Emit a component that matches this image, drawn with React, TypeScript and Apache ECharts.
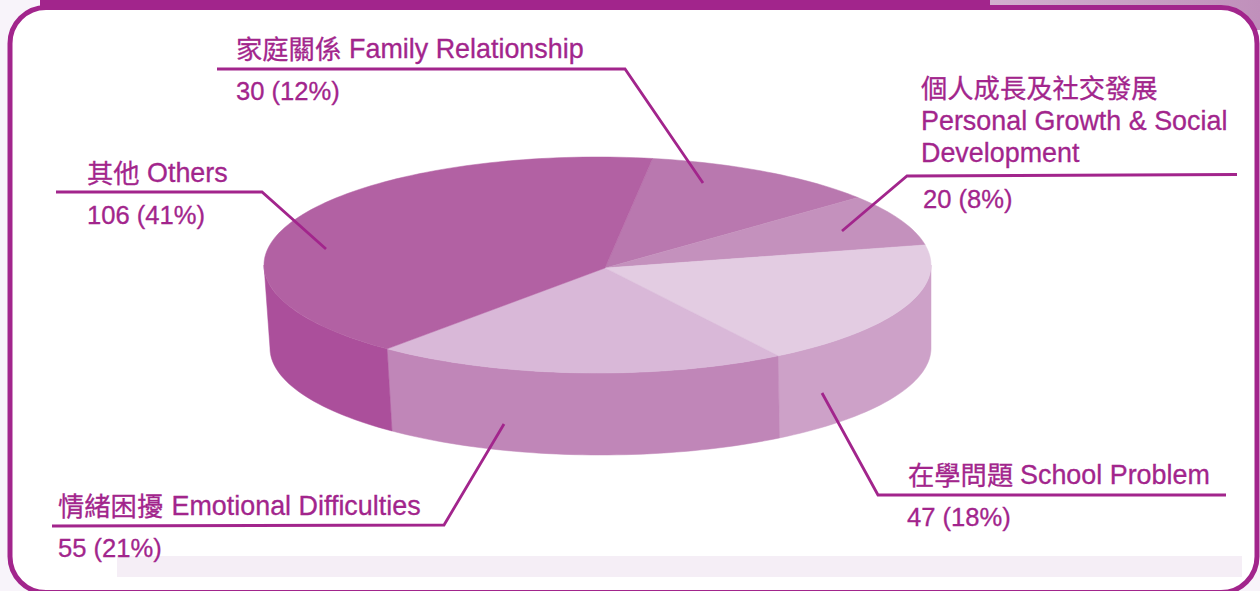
import React, { useEffect, useRef } from "react";
import * as echarts from "echarts";

const chineseNames = ["家庭關係", "個人成長及社交發展", "在學問題", "情緒困擾", "其他"];
const englishNames = ["Family Relationship", "Personal Growth & Social", "School Problem", "Emotional Difficulties", "Others"];
const values = [30, 20, 47, 55, 106];
const percents = [12, 8, 18, 21, 41];
const topColors = ["#b978af", "#c491bd", "#e3cce2", "#d9b8d8", "#b261a3"];
const sideColors = ["#b978af", "#c491bd", "#cda1c8", "#c086b8", "#ab4f9b"];

const PURPLE = "#a2258c";
const FAMILY = '"Liberation Sans", sans-serif';
const CJK_FONT = '26.3px "Noto Sans CJK TC", sans-serif';
const NAME_FONT = `26.9px ${FAMILY}`;
const AMOUNT_FONT = `25.6px ${FAMILY}`;
const START_ANGLE = 80.5;
const FRONT_FORESHORTEN = 2.5;
const TOP = { cx: 597.5, cy: 265, rx: 333.5, ry: 108 };
const BOTTOM = { cx: 600.5, cy: 348, rx: 330.5, ry: 107 };
const APEX = [605, 268];

type Line = { text: string; x: number; y: number; font: string };
const leaders: number[][][] = [
  [[217, 69], [625, 69], [703, 183]],
  [[1237, 174.5], [907, 176], [842, 231]],
  [[1226, 495], [878, 495], [822, 393]],
  [[52, 526], [444, 525], [504, 424]],
  [[56, 192], [262, 192], [326, 249]],
];

function labelLines(i: number): Line[] {
  const amount = `${values[i]} (${percents[i]}%)`;
  switch (i) {
    case 0:
      return [
        { text: chineseNames[0], x: 236, y: 47, font: CJK_FONT },
        { text: englishNames[0], x: 349, y: 49, font: NAME_FONT },
        { text: amount, x: 236, y: 91, font: AMOUNT_FONT },
      ];
    case 1:
      return [
        { text: chineseNames[1], x: 921, y: 86, font: CJK_FONT },
        { text: englishNames[1], x: 921, y: 121, font: NAME_FONT },
        { text: "Development", x: 921, y: 153, font: NAME_FONT },
        { text: amount, x: 923, y: 199, font: AMOUNT_FONT },
      ];
    case 2:
      return [
        { text: chineseNames[2], x: 908, y: 473, font: CJK_FONT },
        { text: englishNames[2], x: 1020, y: 475, font: NAME_FONT },
        { text: amount, x: 907, y: 517, font: AMOUNT_FONT },
      ];
    case 3:
      return [
        { text: chineseNames[3], x: 58, y: 504, font: CJK_FONT },
        { text: englishNames[3], x: 171.5, y: 506, font: NAME_FONT },
        { text: amount, x: 58, y: 548, font: AMOUNT_FONT },
      ];
    default:
      return [
        { text: chineseNames[4], x: 87, y: 171, font: CJK_FONT },
        { text: englishNames[4], x: 147, y: 173, font: NAME_FONT },
        { text: amount, x: 87, y: 215, font: AMOUNT_FONT },
      ];
  }
}

const total = values.reduce((a, b) => a + b, 0);

// The front half of the disc is slightly foreshortened in the 3D view.
function project(angle: number): number {
  if (angle >= 0 || angle <= -180) return angle;
  return angle - FRONT_FORESHORTEN * Math.sin((2 * (angle + 90) * Math.PI) / 180);
}

function sliceAngles(i: number): [number, number] {
  const before = values.slice(0, i).reduce((a, b) => a + b, 0);
  return [
    project(START_ANGLE - (before / total) * 360),
    project(START_ANGLE - ((before + values[i]) / total) * 360),
  ];
}

type Ell = typeof TOP;
function arc(e: Ell, from: number, to: number): number[][] {
  const steps = Math.max(2, Math.ceil(Math.abs(to - from) / 1.5));
  const pts: number[][] = [];
  for (let k = 0; k <= steps; k++) {
    const t = ((from + ((to - from) * k) / steps) * Math.PI) / 180;
    pts.push([e.cx + e.rx * Math.cos(t), e.cy - e.ry * Math.sin(t)]);
  }
  return pts;
}

function renderSlice(params: any) {
  const i = params.dataIndex;
  const [a1, a2] = sliceAngles(i);
  const children: any[] = [];
  const sideFrom = Math.min(a1, 0);
  const sideTo = Math.max(a2, -180);
  if (sideFrom > sideTo) {
    children.push({
      type: "polygon",
      shape: { points: [...arc(TOP, sideFrom, sideTo), ...arc(BOTTOM, sideTo, sideFrom)] },
      style: { fill: sideColors[i], stroke: sideColors[i], lineWidth: 0.5 },
      z2: 1,
    });
  }
  children.push({
    type: "polygon",
    shape: { points: [APEX, ...arc(TOP, a1, a2)] },
    style: { fill: topColors[i], stroke: topColors[i], lineWidth: 0.5 },
    z2: 2,
  });
  return { type: "group", children };
}

function renderLabel(params: any) {
  const i = params.dataIndex;
  const children: any[] = [
    {
      type: "polyline",
      shape: { points: leaders[i] },
      style: { stroke: PURPLE, fill: "none", lineWidth: 2.8 },
    },
  ];
  labelLines(i).forEach((l) =>
    children.push({
      type: "text",
      style: {
        text: l.text,
        x: l.x,
        y: l.y,
        font: l.font,
        fill: PURPLE,
        stroke: PURPLE,
        lineWidth: 0.3,
        textAlign: "left",
        textVerticalAlign: "middle",
      },
    })
  );
  return { type: "group", children };
}

export default function App() {
  const ref = useRef<HTMLDivElement>(null);
  useEffect(() => {
    const chart = echarts.init(ref.current!, undefined, { renderer: "svg" });
    chart.setOption({
      animation: false,
      backgroundColor: "#f8f4fa",
      graphic: [
        {
          type: "rect",
          shape: { x: 990, y: 0, width: 270, height: 30 },
          style: {
            fill: new echarts.graphic.LinearGradient(0, 0, 1, 0, [
              { offset: 0, color: "#d2b0cf" },
              { offset: 1, color: "#c090bb" },
            ]),
          },
        },
        {
          type: "rect",
          shape: { x: 10, y: 7.5, width: 1247, height: 585, r: 36 },
          style: { fill: "#ffffff", stroke: PURPLE, lineWidth: 5 },
        },
        { type: "rect", shape: { x: 40, y: 0, width: 950, height: 10 }, style: { fill: PURPLE } },
        { type: "rect", shape: { x: 117, y: 556, width: 1125, height: 21 }, style: { fill: "#f5eef6" } },
      ],
      series: [
        { type: "custom", coordinateSystem: "none", silent: true, z: 3, renderItem: renderSlice, data: values },
        { type: "custom", coordinateSystem: "none", silent: true, z: 5, renderItem: renderLabel, data: values },
      ],
    });
    return () => chart.dispose();
  }, []);
  return <div ref={ref} style={{ position: "fixed", left: 0, top: 0, width: 1260, height: 591 }} />;
}
